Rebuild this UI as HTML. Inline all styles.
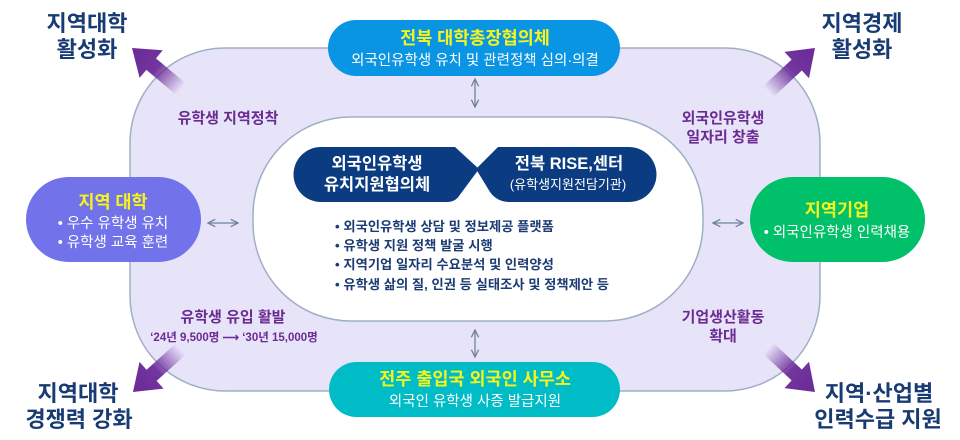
<!DOCTYPE html>
<html><head><meta charset="utf-8">
<style>
html,body{margin:0;padding:0;background:#fff;width:960px;height:440px;overflow:hidden}
svg{display:block}
text{font-family:"Liberation Sans","Noto Sans CJK KR",sans-serif}
</style></head>
<body>
<svg width="960" height="440" viewBox="0 0 960 440" xmlns="http://www.w3.org/2000/svg">
<defs>
<linearGradient id="ag" x1="-64" y1="0" x2="0" y2="0" gradientUnits="userSpaceOnUse">
<stop offset="0" stop-color="#6b2a98" stop-opacity="0"/>
<stop offset="0.5" stop-color="#6b2a98" stop-opacity="0.95"/>
<stop offset="1" stop-color="#6b2a98" stop-opacity="1"/>
</linearGradient>
<g id="arr"><path d="M-64,-7.5 L-25,-7.5 L-25,-18 L0,0 L-25,18 L-25,7.5 L-64,7.5 Z" fill="url(#ag)"/></g>
<marker id="ah" viewBox="0 0 10 10" refX="9" refY="5" markerWidth="7" markerHeight="7" orient="auto-start-reverse"><path d="M1,1 L9,5 L1,9" fill="none" stroke="#6f819a" stroke-width="1.4"/></marker>
</defs>

<!-- outer lavender -->
<rect x="130" y="48" width="690" height="343" rx="95" ry="95" fill="#e7e3f9" stroke="#9fb0c3" stroke-width="1.5"/>
<!-- inner white -->
<rect x="253" y="117" width="450" height="204" rx="98" ry="98" fill="#ffffff" stroke="#9fb0c3" stroke-width="1.5"/>

<!-- purple arrows -->
<use href="#arr" transform="translate(132,48) rotate(-140)"/>
<use href="#arr" transform="translate(815,48) rotate(-43)"/>
<use href="#arr" transform="translate(133,392) rotate(138)"/>
<use href="#arr" transform="translate(815,392) rotate(43)"/>

<!-- double arrows -->
<line x1="475" y1="79" x2="475" y2="107" stroke="#6f819a" stroke-width="1.3" marker-start="url(#ah)" marker-end="url(#ah)"/>
<line x1="475" y1="330" x2="475" y2="357" stroke="#6f819a" stroke-width="1.3" marker-start="url(#ah)" marker-end="url(#ah)"/>
<line x1="208" y1="223" x2="238" y2="223" stroke="#6f819a" stroke-width="1.3" marker-start="url(#ah)" marker-end="url(#ah)"/>
<line x1="713" y1="223" x2="743" y2="223" stroke="#6f819a" stroke-width="1.3" marker-start="url(#ah)" marker-end="url(#ah)"/>

<!-- pills -->
<rect x="328" y="20" width="292" height="56" rx="28" fill="#0a95e4"/>
<rect x="329" y="362" width="291" height="55" rx="27.5" fill="#00bcc6"/>
<rect x="26" y="177" width="175" height="85" rx="42.5" fill="#7272ea"/>
<rect x="750" y="177" width="175" height="85" rx="42.5" fill="#00c06a"/>

<!-- center navy shapes -->
<path d="M321,147 H455 L479,169 L459,196 Q455,202 447,202 H321 A27.5,27.5 0 0 1 321,147 Z" fill="#0b3c82"/>
<path d="M629,147 A27.5,27.5 0 0 1 629,202 H510 Q497,202 490,192 L476,169 L498,147 Z" fill="#0b3c82"/>

<!-- big navy labels -->
<g font-weight="bold" font-size="22" fill="#173b72" text-anchor="middle">
<text x="87" y="31">지역대학</text>
<text x="87" y="57">활성화</text>
<text x="862" y="31">지역경제</text>
<text x="862" y="57">활성화</text>
<text x="78" y="401">지역대학</text>
<text x="79" y="427">경쟁력 강화</text>
<text x="879" y="401">지역·산업별</text>
<text x="878" y="427">인력수급 지원</text>
</g>

<!-- purple labels -->
<g font-weight="bold" font-size="15" fill="#6a2c90" text-anchor="middle">
<text x="228" y="123">유학생 지역정착</text>
<text x="723" y="123">외국인유학생</text>
<text x="723" y="142">일자리 창출</text>
<text x="233" y="322">유학생 유입 활발</text>
<text x="723" y="322">기업생산활동</text>
<text x="723" y="341">확대</text>
<text x="234" y="341" font-size="11.5">‘24년 9,500명 ⟶ ‘30년 15,000명</text>
</g>

<!-- pill text -->
<g text-anchor="middle">
<text x="475" y="44" font-size="17.5" font-weight="bold" fill="#f5f51c">전북 대학총장협의체</text>
<text x="475" y="65" font-size="14.5" fill="#ffffff">외국인유학생 유치 및 관련정책 심의·의결</text>
<text x="475" y="385" font-size="17.5" font-weight="bold" fill="#f5f51c">전주 출입국 외국인 사무소</text>
<text x="475" y="406" font-size="14.5" fill="#ffffff">외국인 유학생 사증 발급지원</text>
<text x="113" y="208" font-size="17.5" font-weight="bold" fill="#f5f51c">지역 대학</text>
<text x="113" y="228" font-size="14.5" fill="#ffffff">• 우수 유학생 유치</text>
<text x="113" y="247" font-size="14.5" fill="#ffffff">• 유학생 교육 훈련</text>
<text x="837" y="216" font-size="17.5" font-weight="bold" fill="#f5f51c">지역기업</text>
<text x="837" y="237" font-size="14.5" fill="#ffffff">• 외국인유학생 인력채용</text>
<text x="377" y="169" font-size="16.5" font-weight="bold" fill="#ffffff">외국인유학생</text>
<text x="377" y="190" font-size="16.5" font-weight="bold" fill="#ffffff">유치지원협의체</text>
<text x="569" y="169" font-size="16.5" font-weight="bold" fill="#ffffff">전북 RISE,센터</text>
<text x="568" y="189" font-size="13" fill="#ffffff">(유학생지원전담기관)</text>
</g>

<!-- center bullets -->
<g font-size="13.3" font-weight="bold" fill="#1d3c74">
<text x="335" y="231">• 외국인유학생 상담 및 정보제공 플랫폼</text>
<text x="335" y="250">• 유학생 지원 정책 발굴 시행</text>
<text x="335" y="269">• 지역기업 일자리 수요분석 및 인력양성</text>
<text x="335" y="289">• 유학생 삶의 질, 인권 등 실태조사 및 정책제안 등</text>
</g>
</svg>
</body></html>
